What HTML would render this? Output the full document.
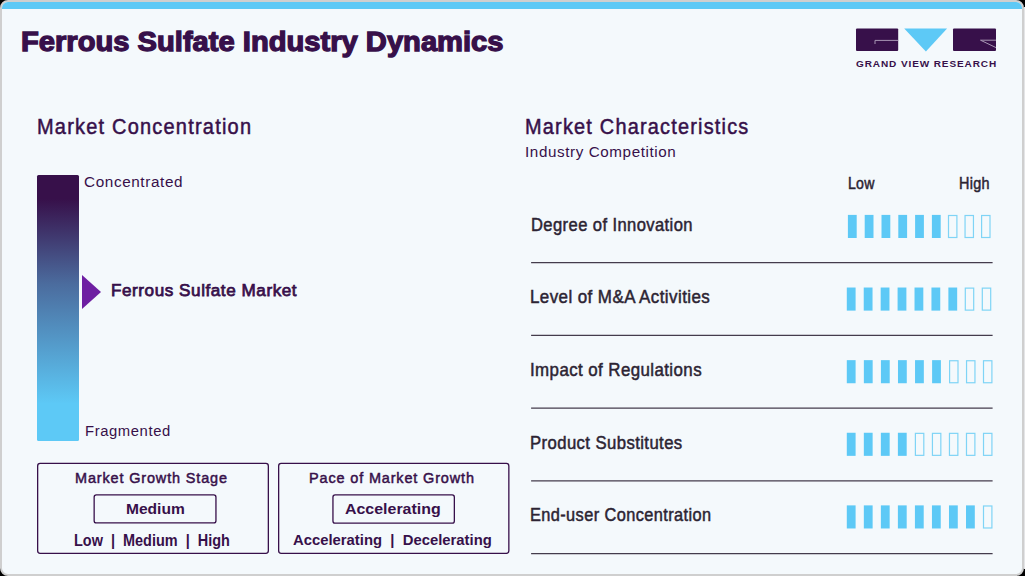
<!DOCTYPE html>
<html><head><meta charset="utf-8"><style>
html,body{margin:0;padding:0;width:1025px;height:576px;overflow:hidden;background:#000;}
.edge{position:absolute;left:1024px;top:7px;width:1px;height:562px;background:#e4e5e7;}
.frame{position:absolute;left:0;top:0;width:1024px;height:576px;box-sizing:border-box;border:2px solid #cfcfcf;border-radius:8px;background:#f4f9fc;overflow:hidden;}
.strip{position:absolute;left:0;top:0;width:100%;height:6.5px;background:#5dc9f6;}
.layer{position:absolute;left:0;top:0;width:1025px;height:576px;}
.t{position:absolute;font-family:"Liberation Sans",sans-serif;line-height:1;white-space:nowrap;transform-origin:0 0;}
.grad{position:absolute;left:37px;top:175px;width:42px;height:266px;border-radius:1.5px;
 background:linear-gradient(to bottom,#37104a 0%,#37104a 9%,#4b6c9e 41%,#5dc9f6 86%,#5dc9f6 100%);}
.tri{position:absolute;left:82px;top:275px;width:0;height:0;border-top:17px solid transparent;border-bottom:17px solid transparent;border-left:19.5px solid #6e1fa2;}
</style></head><body>
<div class="edge"></div>
<div class="frame">
<div class="strip"></div>
</div>
<div class="layer">
<div class="grad"></div>
<div class="tri"></div>
<svg style="position:absolute;left:0;top:0" width="1025" height="576" fill="none" stroke="#37104a" stroke-width="1.3">
<rect x="37.65" y="463.45" width="230.7" height="89.9" rx="2.5"/>
<rect x="278.65" y="463.45" width="230.2" height="89.9" rx="2.5"/>
<rect x="94.15" y="494.95" width="121.8" height="27.9" rx="2.2"/>
<rect x="332.95" y="494.95" width="121.4" height="28.2" rx="2.2"/>
</svg>
<svg style="position:absolute;left:0;top:0" width="1025" height="576"><rect x="847.90" y="214.90" width="8.8" height="23.1" fill="#5dc9f6"/><rect x="864.70" y="214.90" width="8.8" height="23.1" fill="#5dc9f6"/><rect x="881.50" y="214.90" width="8.8" height="23.1" fill="#5dc9f6"/><rect x="898.30" y="214.90" width="8.8" height="23.1" fill="#5dc9f6"/><rect x="915.10" y="214.90" width="8.8" height="23.1" fill="#5dc9f6"/><rect x="931.90" y="214.90" width="8.8" height="23.1" fill="#5dc9f6"/><rect x="948.50" y="215.50" width="8.4" height="22.0" fill="none" stroke="#7fd4f6" stroke-width="1.2"/><rect x="965.05" y="215.50" width="8.4" height="22.0" fill="none" stroke="#7fd4f6" stroke-width="1.2"/><rect x="981.60" y="215.50" width="8.4" height="22.0" fill="none" stroke="#7fd4f6" stroke-width="1.2"/><rect x="846.80" y="287.52" width="8.8" height="23.1" fill="#5dc9f6"/><rect x="863.73" y="287.52" width="8.8" height="23.1" fill="#5dc9f6"/><rect x="880.66" y="287.52" width="8.8" height="23.1" fill="#5dc9f6"/><rect x="897.59" y="287.52" width="8.8" height="23.1" fill="#5dc9f6"/><rect x="914.52" y="287.52" width="8.8" height="23.1" fill="#5dc9f6"/><rect x="931.45" y="287.52" width="8.8" height="23.1" fill="#5dc9f6"/><rect x="948.38" y="287.52" width="8.8" height="23.1" fill="#5dc9f6"/><rect x="965.30" y="288.12" width="8.4" height="22.0" fill="none" stroke="#7fd4f6" stroke-width="1.2"/><rect x="982.30" y="288.12" width="8.4" height="22.0" fill="none" stroke="#7fd4f6" stroke-width="1.2"/><rect x="846.80" y="360.14" width="8.8" height="23.1" fill="#5dc9f6"/><rect x="863.86" y="360.14" width="8.8" height="23.1" fill="#5dc9f6"/><rect x="880.92" y="360.14" width="8.8" height="23.1" fill="#5dc9f6"/><rect x="897.98" y="360.14" width="8.8" height="23.1" fill="#5dc9f6"/><rect x="915.04" y="360.14" width="8.8" height="23.1" fill="#5dc9f6"/><rect x="932.10" y="360.14" width="8.8" height="23.1" fill="#5dc9f6"/><rect x="949.60" y="360.74" width="8.4" height="22.0" fill="none" stroke="#7fd4f6" stroke-width="1.2"/><rect x="966.55" y="360.74" width="8.4" height="22.0" fill="none" stroke="#7fd4f6" stroke-width="1.2"/><rect x="983.50" y="360.74" width="8.4" height="22.0" fill="none" stroke="#7fd4f6" stroke-width="1.2"/><rect x="846.80" y="432.76" width="8.8" height="23.1" fill="#5dc9f6"/><rect x="863.83" y="432.76" width="8.8" height="23.1" fill="#5dc9f6"/><rect x="880.86" y="432.76" width="8.8" height="23.1" fill="#5dc9f6"/><rect x="897.89" y="432.76" width="8.8" height="23.1" fill="#5dc9f6"/><rect x="915.40" y="433.36" width="8.4" height="22.0" fill="none" stroke="#7fd4f6" stroke-width="1.2"/><rect x="932.43" y="433.36" width="8.4" height="22.0" fill="none" stroke="#7fd4f6" stroke-width="1.2"/><rect x="949.46" y="433.36" width="8.4" height="22.0" fill="none" stroke="#7fd4f6" stroke-width="1.2"/><rect x="966.49" y="433.36" width="8.4" height="22.0" fill="none" stroke="#7fd4f6" stroke-width="1.2"/><rect x="983.52" y="433.36" width="8.4" height="22.0" fill="none" stroke="#7fd4f6" stroke-width="1.2"/><rect x="846.80" y="505.38" width="8.8" height="23.1" fill="#5dc9f6"/><rect x="863.83" y="505.38" width="8.8" height="23.1" fill="#5dc9f6"/><rect x="880.86" y="505.38" width="8.8" height="23.1" fill="#5dc9f6"/><rect x="897.89" y="505.38" width="8.8" height="23.1" fill="#5dc9f6"/><rect x="914.92" y="505.38" width="8.8" height="23.1" fill="#5dc9f6"/><rect x="931.95" y="505.38" width="8.8" height="23.1" fill="#5dc9f6"/><rect x="948.98" y="505.38" width="8.8" height="23.1" fill="#5dc9f6"/><rect x="966.01" y="505.38" width="8.8" height="23.1" fill="#5dc9f6"/><rect x="983.50" y="505.98" width="8.4" height="22.0" fill="none" stroke="#7fd4f6" stroke-width="1.2"/><rect x="531.1" y="262.00" width="461.5" height="1.25" fill="#443c4c"/><rect x="531.1" y="334.75" width="461.5" height="1.25" fill="#443c4c"/><rect x="531.1" y="407.50" width="461.5" height="1.25" fill="#443c4c"/><rect x="531.1" y="480.25" width="461.5" height="1.25" fill="#443c4c"/><rect x="531.1" y="553.00" width="461.5" height="1.25" fill="#443c4c"/></svg>

<svg style="position:absolute;left:0;top:0" width="1025" height="576">
<rect x="856" y="28.5" width="42.2" height="22.5" rx="1" fill="#37104a"/>
<path d="M875 44 V40.4 H898.2" fill="none" stroke="#a795b3" stroke-width="1"/>
<polygon points="904.2,28.5 947.1,28.5 925.9,51.5" fill="#5dc9f6"/>
<rect x="953" y="28.5" width="43" height="22.5" rx="1" fill="#37104a"/>
<path d="M996 40.2 H980.5 L996 47.6" fill="none" stroke="#a795b3" stroke-width="1"/>
</svg>
<div class="t" style="left:20.68px;top:28.46px;font-size:27.4px;font-weight:700;color:#37104a;transform:scaleX(1.0638);-webkit-text-stroke:1.3px #37104a;">Ferrous Sulfate Industry Dynamics</div>
<div class="t" style="left:36.95px;top:116.69px;font-size:21.3px;font-weight:400;color:#37104a;transform:scaleX(0.9373);-webkit-text-stroke:0.5px #37104a;letter-spacing:1.3px;">Market Concentration</div>
<div class="t" style="left:525.29px;top:116.69px;font-size:21.3px;font-weight:400;color:#37104a;transform:scaleX(0.9338);-webkit-text-stroke:0.5px #37104a;letter-spacing:1.3px;">Market Characteristics</div>
<div class="t" style="left:524.71px;top:143.86px;font-size:15.22px;font-weight:400;color:#37104a;transform:scaleX(0.9988);letter-spacing:0.6px;">Industry Competition</div>
<div class="t" style="left:83.93px;top:173.96px;font-size:15.22px;font-weight:400;color:#37104a;transform:scaleX(1.0055);letter-spacing:0.6px;">Concentrated</div>
<div class="t" style="left:85.45px;top:422.95px;font-size:15.07px;font-weight:400;color:#37104a;transform:scaleX(0.9842);letter-spacing:0.6px;">Fragmented</div>
<div class="t" style="left:110.54px;top:283.43px;font-size:16.9px;font-weight:400;color:#37104a;transform:scaleX(1.0122);-webkit-text-stroke:0.75px #37104a;letter-spacing:0.55px;">Ferrous Sulfate Market</div>
<div class="t" style="left:530.54px;top:216.08px;font-size:18.26px;font-weight:400;color:#2c2433;transform:scaleX(0.9073);-webkit-text-stroke:0.5px #2c2433;letter-spacing:0.45px;">Degree of Innovation</div>
<div class="t" style="left:530.02px;top:287.88px;font-size:18.26px;font-weight:400;color:#2c2433;transform:scaleX(0.9291);-webkit-text-stroke:0.5px #2c2433;letter-spacing:0.45px;">Level of M&amp;A Activities</div>
<div class="t" style="left:529.74px;top:361.44px;font-size:18.26px;font-weight:400;color:#2c2433;transform:scaleX(0.9249);-webkit-text-stroke:0.5px #2c2433;letter-spacing:0.45px;">Impact of Regulations</div>
<div class="t" style="left:530.04px;top:433.72px;font-size:18.26px;font-weight:400;color:#2c2433;transform:scaleX(0.9149);-webkit-text-stroke:0.5px #2c2433;letter-spacing:0.45px;">Product Substitutes</div>
<div class="t" style="left:530.06px;top:505.68px;font-size:18.26px;font-weight:400;color:#2c2433;transform:scaleX(0.8953);-webkit-text-stroke:0.5px #2c2433;letter-spacing:0.45px;">End-user Concentration</div>
<div class="t" style="left:847.67px;top:175.65px;font-size:15.94px;font-weight:400;color:#2c2433;transform:scaleX(0.8855);-webkit-text-stroke:0.5px #2c2433;letter-spacing:0.3px;">Low</div>
<div class="t" style="left:958.95px;top:175.65px;font-size:15.94px;font-weight:400;color:#2c2433;transform:scaleX(0.9040);-webkit-text-stroke:0.5px #2c2433;letter-spacing:0.3px;">High</div>
<div class="t" style="left:75.23px;top:469.76px;font-size:15.22px;font-weight:400;color:#37104a;transform:scaleX(0.9500);-webkit-text-stroke:0.5px #37104a;letter-spacing:0.9px;">Market Growth Stage</div>
<div class="t" style="left:125.69px;top:500.94px;font-size:15.36px;font-weight:700;color:#37104a;transform:scaleX(1.0125);">Medium</div>
<div class="t" style="left:74.39px;top:532.65px;font-size:15.94px;font-weight:700;color:#37104a;transform:scaleX(0.9071);">Low&nbsp;&nbsp;|&nbsp;&nbsp;Medium&nbsp;&nbsp;|&nbsp;&nbsp;High</div>
<div class="t" style="left:309.13px;top:469.76px;font-size:15.22px;font-weight:400;color:#37104a;transform:scaleX(0.9500);-webkit-text-stroke:0.5px #37104a;letter-spacing:0.9px;">Pace of Market Growth</div>
<div class="t" style="left:345.08px;top:500.94px;font-size:15.36px;font-weight:700;color:#37104a;transform:scaleX(1.0374);">Accelerating</div>
<div class="t" style="left:293.08px;top:531.76px;font-size:15.22px;font-weight:700;color:#37104a;transform:scaleX(0.9749);">Accelerating&nbsp;&nbsp;|&nbsp;&nbsp;Decelerating</div>
<div class="t" style="left:855.90px;top:60.07px;font-size:9px;font-weight:700;color:#37104a;transform:scaleX(1.1137);letter-spacing:0.8px;">GRAND VIEW RESEARCH</div>
</div>
</body></html>
